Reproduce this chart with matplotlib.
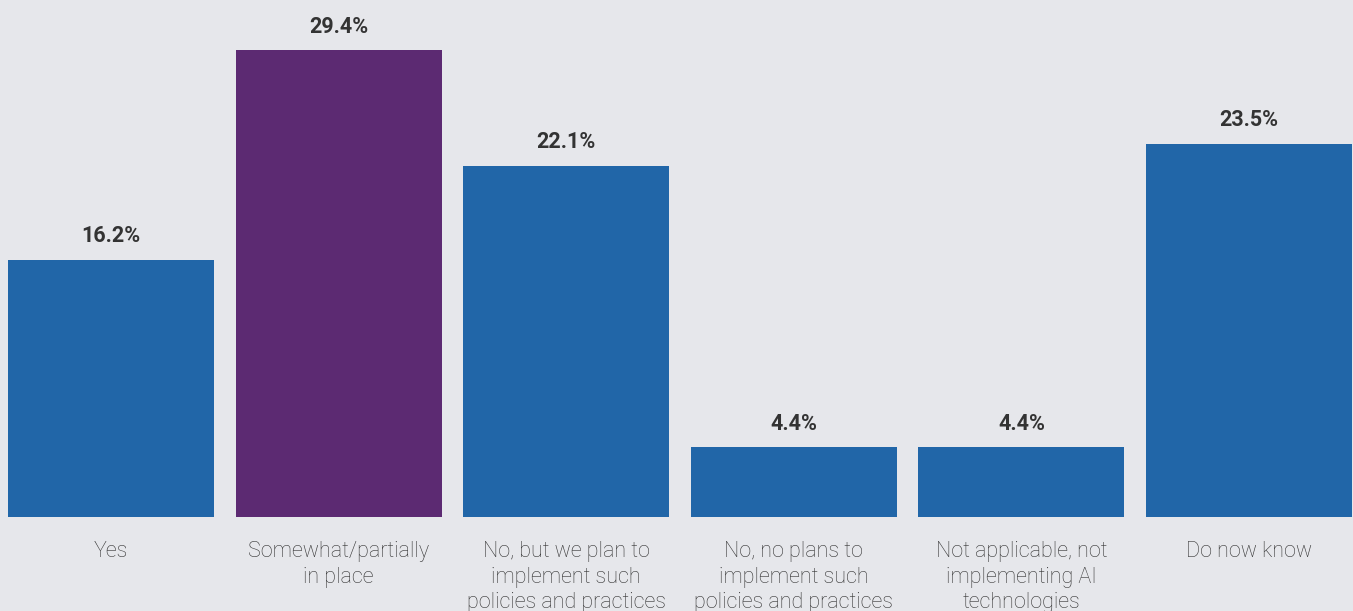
import matplotlib.pyplot as plt

categories = [
    "Yes",
    "Somewhat/partially\nin place",
    "No, but we plan to\nimplement such\npolicies and practices",
    "No, no plans to\nimplement such\npolicies and practices",
    "Not applicable, not\nimplementing AI\ntechnologies",
    "Do now know",
]
values = [16.2, 29.4, 22.1, 4.4, 4.4, 23.5]
bar_colors = ["#2166A8", "#5C2A72", "#2166A8", "#2166A8", "#2166A8", "#2166A8"]

bg = "#E6E7EB"
plt.rcParams['font.family'] = ['Roboto', 'DejaVu Sans']

fig = plt.figure(figsize=(13.53, 6.11), dpi=100, facecolor=bg)
ax = fig.add_axes([0, 94 / 611, 1, 517 / 611])
ax.set_facecolor(bg)

x = list(range(len(values)))
ax.bar(x, values, width=0.905, color=bar_colors)

# value labels above bars
for xi, v in zip(x, values):
    ax.annotate(f"{v}%", (xi, v), xytext=(0, 23.5), textcoords="offset pixels",
                ha="center", va="center", fontsize=15.5, fontweight="bold", color="#333333")

# category labels under bars
for xi, label in zip(x, categories):
    ax.annotate(label, (xi, 0), xytext=(0, -24), textcoords="offset pixels",
                ha="center", va="top", fontsize=15.5, fontweight="light",
                color="#333333", linespacing=1.29, annotation_clip=False)

ax.set_xlim(-0.488, 5.457)
ax.set_ylim(0, 32.55)
ax.axis("off")

plt.savefig("out.png", dpi=100, facecolor=bg)
